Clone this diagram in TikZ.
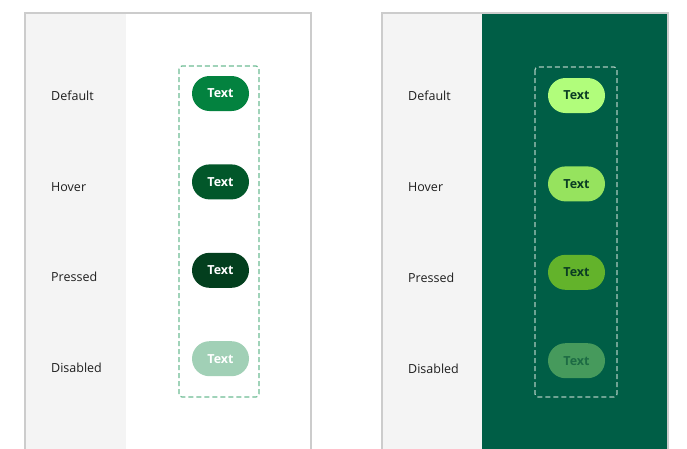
\documentclass[tikz,border=0pt]{standalone}
\usepackage{fontspec}
\setmainfont{Open Sans}
\usepackage{tikz}
\usetikzlibrary{positioning}

\definecolor{framegray}{HTML}{CCCCCC}
\definecolor{stripgray}{HTML}{F4F4F4}
\definecolor{labelink}{HTML}{1E1E1E}
\definecolor{darkbg}{HTML}{005E46}
\definecolor{dashgreen}{HTML}{6EBC94}
\definecolor{dashpale}{HTML}{A9C9BD}
\definecolor{lightdefault}{HTML}{03823F}
\definecolor{lighthover}{HTML}{02572A}
\definecolor{lightpressed}{HTML}{033F1E}
\definecolor{lightdisabled}{HTML}{A1D0B6}
\definecolor{darkdefault}{HTML}{B1FD7B}
\definecolor{darkhover}{HTML}{96E35E}
\definecolor{darkpressed}{HTML}{63B32B}
\definecolor{darkdisabled}{HTML}{469A5C}
\definecolor{darkink}{HTML}{0B3D24}
\definecolor{darkinkoff}{HTML}{1D6B44}

\begin{document}
\begin{tikzpicture}[x=1pt, y=-1pt,
    statelabel/.style={anchor=west, text=labelink, font=\fontsize{12.5}{15}\selectfont, inner sep=0pt},
    pill/.style={rectangle, rounded corners=17.5pt, minimum width=57pt, minimum height=35pt,
        inner sep=0pt, font=\fontsize{12.5}{14}\selectfont\bfseries},
    group/.style={dash pattern=on 5pt off 3pt, line width=1.2pt, rounded corners=3pt}]

        \useasboundingbox (0,0) rectangle (687,448);
        \clip (0,0) rectangle (687,448);

        % light panel
        \fill[white] (25,13) rectangle (311,460);
        \fill[stripgray] (25,13) rectangle (126,460);
        \draw[framegray, line width=1.5pt] (25,460) -- (25,13) -- (311,13) -- (311,460);

        \node[statelabel] (lab1) at (51,96) {Default};
        \node[statelabel] (lab2) at (51,187) {Hover};
        \node[statelabel] (lab3) at (51,277) {Pressed};
        \node[statelabel] (lab4) at (51,368) {Disabled};

        \draw[group, dashgreen] (179,66) rectangle (259,397);

        \node[pill, fill=lightdefault, text=white] (btn1) at (220.5,93.5) {Text};
        \node[pill, fill=lighthover, text=white, below=53pt of btn1] (btn2) {Text};
        \node[pill, fill=lightpressed, text=white, below=53pt of btn2] (btn3) {Text};
        \node[pill, fill=lightdisabled, text=white, below=53pt of btn3] (btn4) {Text};

        % dark panel
        \fill[stripgray] (382,13) rectangle (482,460);
        \fill[darkbg] (482,13) rectangle (668,460);
        \draw[framegray, line width=1.5pt] (382,460) -- (382,13) -- (668,13) -- (668,460);

        \node[statelabel] (dlab1) at (408,96) {Default};
        \node[statelabel] (dlab2) at (408,187) {Hover};
        \node[statelabel] (dlab3) at (408,278) {Pressed};
        \node[statelabel] (dlab4) at (408,369) {Disabled};

        \draw[group, dashpale] (535,67) rectangle (617,397);

        \node[pill, fill=darkdefault, text=darkink] (dbtn1) at (576.5,95.5) {Text};
        \node[pill, fill=darkhover, text=darkink, below=53pt of dbtn1] (dbtn2) {Text};
        \node[pill, fill=darkpressed, text=darkink, below=53pt of dbtn2] (dbtn3) {Text};
        \node[pill, fill=darkdisabled, text=darkinkoff, below=53pt of dbtn3] (dbtn4) {Text};
    \end{tikzpicture}
\end{document}
